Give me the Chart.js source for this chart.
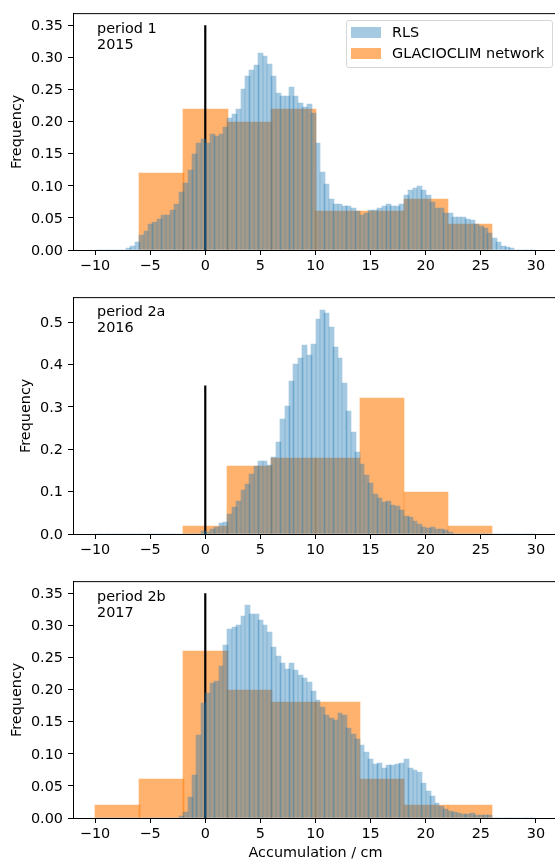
<!DOCTYPE html>
<html>
<head>
<meta charset="utf-8">
<title>Accumulation histograms</title>
<script src="https://cdn.jsdelivr.net/npm/chart.js@4"></script>
<style>
  html, body { margin: 0; padding: 0; background: #fff; overflow: hidden; }
  #page { position: relative; width: 555px; height: 862px; overflow: hidden; font-family: "DejaVu Sans", sans-serif; color: #000; }
  .panel { position: absolute; left: 0; width: 560px; }
  .note { position: absolute; left: 97px; font-size: 14.4px; line-height: 16.3px; white-space: pre; }
  #legend { position: absolute; left: 345.5px; top: 20px; width: 207px; height: 48px; box-sizing: border-box; border: 1px solid #d6d6d6; border-radius: 3px; background: rgba(255,255,255,.8); font-size: 14.4px; }
  #legend div { position: absolute; left: 45.5px; white-space: pre; line-height: 17px; }
  #legend span { position: absolute; left: 4.5px; width: 30px; height: 10.7px; }
</style>
</head>
<body>
<div id="page">
  <div class="panel" style="top:0;height:280px"><canvas id="chart1"></canvas></div>
  <div class="panel" style="top:284px;height:280px"><canvas id="chart2"></canvas></div>
  <div class="panel" style="top:568px;height:294px"><canvas id="chart3"></canvas></div>
  <div class="note" style="top:20px">period 1
2015</div>
  <div class="note" style="top:303px">period 2a
2016</div>
  <div class="note" style="top:588px">period 2b
2017</div>
  <div id="legend">
    <span style="top:6px;background:rgba(31,119,180,.4)"></span><div style="top:3px">RLS</div>
    <span style="top:27px;background:rgba(255,127,14,.6)"></span><div style="top:24px">GLACIOCLIM network</div>
  </div>
</div>
<script>
// RLS histogram, one value per 0.4 cm bin starting at -10 cm
var rls2015 = [0,0,0,0,0,0,
  .001,.003,.007,.013,.024,.03,.04,.043,.049,.054,.054,.062,.071,.091,.104,.124,.149,.167,.173,
  .167,.18,.178,.18,.191,.206,.211,.22,.251,.271,.281,.288,.307,.302,.29,.271,.245,.24,.24,.254,
  .24,.229,.223,.228,.214,.166,.122,.102,.079,.071,.071,.069,.068,.065,.06,.055,.057,.063,.063,.065,
  .068,.071,.069,.068,.071,.086,.094,.096,.1,.093,.085,.074,.066,.065,.057,.057,.052,.052,.052,.049,
  .046,.04,.038,.034,.027,.018,.012,.007,.004,.003,.001,.001,0,0,0];
var rls2016 = [0,0,0,0,0,0,0,0,0,0,0,0,0,0,0,0,0,0,0,0,0,0,
  .001,.002,.007,.005,.012,.016,.026,.028,.047,.064,.078,.104,.118,.141,.16,.172,.172,.162,
  .181,.216,.271,.301,.362,.402,.416,.445,.423,.447,.506,.529,.522,.489,.442,.414,.355,.289,.24,.193,
  .165,.139,.12,.094,.085,.075,.078,.068,.066,.056,.042,.04,.031,.024,.016,.014,.016,.012,.012,.009,
  .005,.003,.002,.001,.001,0,0,0,0,0,0,0,0,0,0,0,0,0,0,0];
var rls2017 = [0,0,0,0,0,0,0,0,0,0,0,0,0,0,0,0,0,0,
  .002,.003,.01,.032,.067,.129,.179,.194,.21,.213,.236,.269,.294,.297,.3,.314,.331,.318,.318,.308,.3,.29,
  .266,.252,.241,.232,.241,.23,.222,.218,.211,.197,.184,.173,.16,.156,.152,.163,.16,.14,.131,.123,
  .114,.103,.092,.084,.086,.078,.083,.083,.084,.086,.092,.078,.075,.072,.055,.042,.035,.024,.018,.014,
  .011,.01,.008,.007,.007,.008,.005,.005,.004,.004,.002,.002,.002,.002,.001,.001,.002,.001,0,0];

// GLACIOCLIM network, 4 cm bins from -10 cm
var net2015 = [0,.12,.22,.2,.22,.06,.06,.08,.04];
var net2016 = [0,0,.02,.16,.18,.18,.32,.1,.02];
var net2017 = [.02,.06,.26,.2,.18,.18,.06,.02,.02];

var xTicks = [-10,-5,0,5,10,15,20,25,30];
var yTicks1 = [0,.05,.1,.15,.2,.25,.3,.35];
var yTicks2 = [0,.1,.2,.3,.4,.5];
var xMin = -12, xMax = 32;
var pxPerCm = 485 / (xMax - xMin);

function rlsPoints(values){
  var pts = [];
  for(var i = 0; i < values.length; i++){
    pts.push({x: -9.8 + i * 0.4, y: values[i]});
  }
  return pts;
}
function netPoints(values){
  var pts = [];
  for(var i = 0; i < values.length; i++){
    pts.push({x: -8 + i * 4, y: values[i]});
  }
  return pts;
}

// agg-like pixel snapping, this gives the darker seams between the bars
var snapBars = {
  id: 'snapBars',
  afterDatasetsUpdate: function(chart){
    chart.data.datasets.forEach(function(ds, n){
      if(ds.type === 'line') return;
      chart.getDatasetMeta(n).data.forEach(function(bar){
        var left = Math.round(bar.x - bar.width / 2);
        var right = Math.ceil(bar.x + bar.width / 2);
        bar.x = (left + right) / 2;
        bar.width = right - left;
        bar.y = Math.round(bar.y);
        // empty bins only tint the axis line
        if(bar.base - bar.y <= 1){
          bar.y += 1;
          bar.base += 1;
        }
      });
    });
  }
};

// top spine, the right one falls outside the picture
var topSpine = {
  id: 'topSpine',
  afterDraw: function(chart){
    var a = chart.chartArea, ctx = chart.ctx;
    ctx.save();
    ctx.strokeStyle = '#000';
    ctx.lineWidth = 1;
    ctx.beginPath();
    ctx.moveTo(a.left, a.top);
    ctx.lineTo(a.right, a.top);
    ctx.stroke();
    ctx.restore();
  }
};

function makeChart(id, rls, net, yMax, yTicks, decimals, leftPad, showXTitle, xHeight){
  return new Chart(document.getElementById(id), {
    type: 'bar',
    data: {
      datasets: [
        {type: 'bar', label: 'RLS', data: rlsPoints(rls), backgroundColor: 'rgba(31,119,180,.4)',
          grouped: false, barThickness: 0.4 * pxPerCm, minBarLength: 1, order: 1},
        {type: 'line', label: 'zero', data: [{x: 0, y: 0}, {x: 0, y: .35}], borderColor: '#000',
          borderWidth: 2.2, pointRadius: 0, order: 2},
        {type: 'bar', label: 'GLACIOCLIM network', data: netPoints(net), backgroundColor: 'rgba(255,127,14,.6)',
          grouped: false, barThickness: 4 * pxPerCm, order: 3}
      ]
    },
    options: {
      responsive: true,
      maintainAspectRatio: false,
      animation: false,
      devicePixelRatio: 1,
      layout: {padding: {top: 13, left: leftPad, right: 2, bottom: 0}},
      plugins: {legend: {display: false}, tooltip: {enabled: false}},
      scales: {
        x: {
          type: 'linear', min: xMin, max: xMax, offset: false,
          afterBuildTicks: function(axis){ axis.ticks = xTicks.map(function(v){ return {value: v}; }); },
          afterFit: function(axis){ axis.height = xHeight; },
          ticks: {
            autoSkip: false, maxRotation: 0, padding: 3, color: '#000',
            font: {family: 'DejaVu Sans', size: 14.4},
            callback: function(v){ return String(v).replace('-', '\u2212'); }
          },
          grid: {drawOnChartArea: false, offset: false, tickLength: 5, tickColor: '#000', tickWidth: 1},
          border: {color: '#000', width: 1, z: 0},
          title: {display: showXTitle, text: 'Accumulation / cm', color: '#000',
            font: {family: 'DejaVu Sans', size: 14.4}, padding: {top: 4, bottom: 0}}
        },
        y: {
          min: 0, max: yMax,
          afterBuildTicks: function(axis){ axis.ticks = yTicks.map(function(v){ return {value: v}; }); },
          afterFit: function(axis){ axis.width = 73 - leftPad; },
          ticks: {
            padding: 5, labelOffset: 1, color: '#000',
            font: {family: 'DejaVu Sans', size: 14.4},
            callback: function(v){ return v.toFixed(decimals); }
          },
          grid: {drawOnChartArea: false, tickLength: 5, tickColor: '#000', tickWidth: 1},
          border: {color: '#000', width: 1, z: 1},
          title: {display: true, text: 'Frequency', color: '#000',
            font: {family: 'DejaVu Sans', size: 14.4}, padding: {top: 0, bottom: 0}}
        }
      }
    },
    plugins: [snapBars, topSpine]
  });
}

makeChart('chart1', rls2015, net2015, .368, yTicks1, 2, 9, false, 30);
makeChart('chart2', rls2016, net2016, .5575, yTicks2, 1, 18, false, 30);
makeChart('chart3', rls2017, net2017, .368, yTicks1, 2, 9, true, 44);
</script>
</body>
</html>
